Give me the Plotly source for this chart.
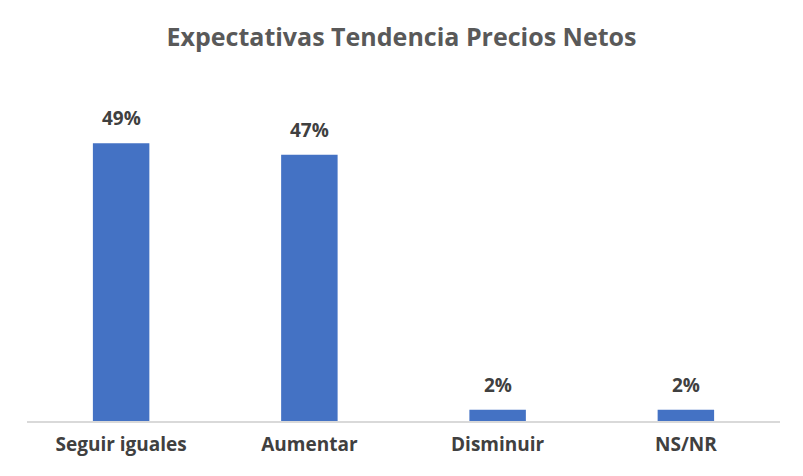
import plotly.graph_objects as go

categories = ["Seguir iguales", "Aumentar", "Disminuir", "NS/NR"]
values = [49, 47, 2, 2]
labels = ["49%", "47%", "2%", "2%"]

bar_color = "#4472C4"
text_color = "#404040"
font_family = "Open Sans"

# page body has an 8px default margin; figure sized/offset to compensate
W, H = 787, 460

fig = go.Figure()
fig.add_trace(go.Bar(
    x=categories,
    y=values,
    marker=dict(color=bar_color, line=dict(width=0)),
    width=0.3,
    hoverinfo="skip",
))

for c, v, t in zip(categories, values, labels):
    fig.add_annotation(
        x=c, y=v, text=t, showarrow=False,
        yanchor="bottom", yshift=10,
        font=dict(family=font_family, size=19, color=text_color, weight="bold"),
    )

fig.update_layout(
    width=W, height=H,
    margin=dict(l=19, r=15, t=73, b=47),
    paper_bgcolor="white",
    plot_bgcolor="white",
    showlegend=False,
    title=dict(
        text="Expectativas Tendencia Precios Netos",
        x=0.5, xanchor="center",
        y=1 - 29 / H, yanchor="middle",
        font=dict(family=font_family, size=25, color="#595959", weight="bold"),
    ),
    xaxis=dict(
        showline=True, linecolor="#D9D9D9", linewidth=1.5,
        showgrid=False, zeroline=False,
        tickfont=dict(family=font_family, size=19, color=text_color, weight="bold"),
        ticklabelstandoff=5,
    ),
    yaxis=dict(
        range=[0, 60], visible=False, showgrid=False, zeroline=False,
    ),
)

fig.write_html("out.html")
